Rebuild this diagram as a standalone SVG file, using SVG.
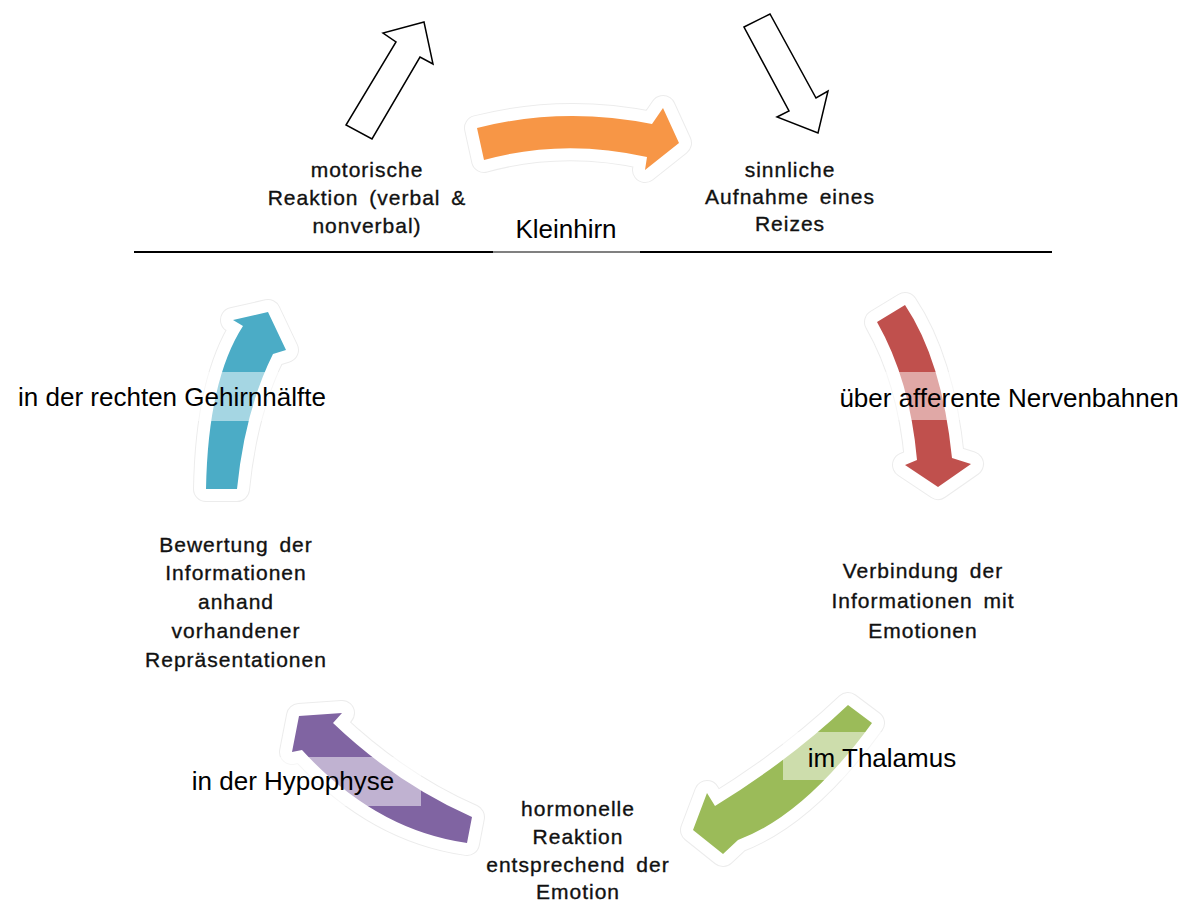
<svg xmlns="http://www.w3.org/2000/svg" width="1189" height="902" viewBox="0 0 1189 902">
<style>
.halo{fill:#ececec;stroke:#ececec;stroke-width:26;stroke-linejoin:round}
.halo2{fill:#ffffff;stroke:#ffffff;stroke-width:24;stroke-linejoin:round}
.outline{fill:#ffffff;stroke:#000000;stroke-width:1.5;stroke-linejoin:miter}
.lbl{font-family:"Liberation Sans",Arial,sans-serif;font-size:26px;fill:#000000;text-anchor:middle}
.box{fill:#ffffff;fill-opacity:0.5}
.node{font-family:"Liberation Sans",Arial,sans-serif;font-size:21px;fill:#111111;stroke:#111111;stroke-width:0.35;text-anchor:middle;letter-spacing:1px;word-spacing:4px}
</style>
<rect width="1189" height="902" fill="#ffffff"/>
<g id="connectors">
  <polygon class="outline" points="424,22 383,33 396,42 346,125 372,139 420,57 433,64"/>
  <polygon class="outline" points="744,27 770,14 816,98 828,91 818,133 777,117 789,111"/>
  <g id="arrow-orange">
    <path class="halo" d="M477,128 Q563,106 652,124 L663,108 L679,143 L645,170 L647,157 Q563,138 484,160 Z"/>
    <path class="halo2" d="M477,128 Q563,106 652,124 L663,108 L679,143 L645,170 L647,157 Q563,138 484,160 Z"/>
    <path fill="#F79646" d="M477,128 Q563,106 652,124 L663,108 L679,143 L645,170 L647,157 Q563,138 484,160 Z"/>
  </g>
  <g id="arrow-red">
    <path class="halo" d="M877,322 Q910,380 917,460 L905,465 L938,487 L971,464 L952,458 Q942,360 905,305 Z"/>
    <path class="halo2" d="M877,322 Q910,380 917,460 L905,465 L938,487 L971,464 L952,458 Q942,360 905,305 Z"/>
    <path fill="#C0504D" d="M877,322 Q910,380 917,460 L905,465 L938,487 L971,464 L952,458 Q942,360 905,305 Z"/>
  </g>
  <g id="arrow-green">
    <path class="halo" d="M848,705 Q790,760 715,806 L707,793 L693,830 L723,854 L738,840 Q805,815 872,723 Z"/>
    <path class="halo2" d="M848,705 Q790,760 715,806 L707,793 L693,830 L723,854 L738,840 Q805,815 872,723 Z"/>
    <path fill="#9BBB59" d="M848,705 Q790,760 715,806 L707,793 L693,830 L723,854 L738,840 Q805,815 872,723 Z"/>
  </g>
  <g id="arrow-purple">
    <path class="halo" d="M472,817 Q397,784 333,723 L342,713 L299,716 L292,752 L302,750 Q375,830 467,843 Z"/>
    <path class="halo2" d="M472,817 Q397,784 333,723 L342,713 L299,716 L292,752 L302,750 Q375,830 467,843 Z"/>
    <path fill="#8064A2" d="M472,817 Q397,784 333,723 L342,713 L299,716 L292,752 L302,750 Q375,830 467,843 Z"/>
  </g>
  <g id="arrow-blue">
    <path class="halo" d="M206,489 Q208,380 243,326 L233,320 L268,312 L286,350 L273,354 Q245,410 237,489 Z"/>
    <path class="halo2" d="M206,489 Q208,380 243,326 L233,320 L268,312 L286,350 L273,354 Q245,410 237,489 Z"/>
    <path fill="#4BACC6" d="M206,489 Q208,380 243,326 L233,320 L268,312 L286,350 L273,354 Q245,410 237,489 Z"/>
  </g>
  <line x1="134" y1="252" x2="1052" y2="252" stroke="#000000" stroke-width="2"/>
</g>
<g id="label-kleinhirn">
  <rect class="box" x="493" y="205" width="147" height="48"/>
  <text class="lbl" x="566" y="238">Kleinhirn</text>
</g>
<g id="label-afferent">
  <rect class="box" x="811" y="372" width="396" height="48"/>
  <text class="lbl" x="1009" y="407">über afferente Nervenbahnen</text>
</g>
<g id="label-thalamus">
  <rect class="box" x="783" y="732" width="199" height="48"/>
  <text class="lbl" x="882" y="767">im Thalamus</text>
</g>
<g id="label-hypophyse">
  <rect class="box" x="166" y="757" width="255" height="49"/>
  <text class="lbl" x="293" y="790">in der Hypophyse</text>
</g>
<g id="label-gehirn">
  <rect class="box" x="-8" y="372" width="361" height="49"/>
  <text class="lbl" x="172" y="406">in der rechten Gehirnhälfte</text>
</g>
<g id="node-motorisch">
  <text class="node" x="367" y="177">motorische</text>
  <text class="node" x="367" y="205">Reaktion (verbal &amp;</text>
  <text class="node" x="367" y="233">nonverbal)</text>
</g>
<g id="node-sinnlich">
  <text class="node" x="790" y="177">sinnliche</text>
  <text class="node" x="790" y="204">Aufnahme eines</text>
  <text class="node" x="790" y="231">Reizes</text>
</g>
<g id="node-verbindung">
  <text class="node" x="923" y="578">Verbindung der</text>
  <text class="node" x="923" y="608">Informationen mit</text>
  <text class="node" x="923" y="638">Emotionen</text>
</g>
<g id="node-hormonell">
  <text class="node" x="578" y="816">hormonelle</text>
  <text class="node" x="578" y="844">Reaktion</text>
  <text class="node" x="578" y="872">entsprechend der</text>
  <text class="node" x="578" y="899">Emotion</text>
</g>
<g id="node-bewertung">
  <text class="node" x="236" y="552">Bewertung der</text>
  <text class="node" x="236" y="580">Informationen</text>
  <text class="node" x="236" y="609">anhand</text>
  <text class="node" x="236" y="638">vorhandener</text>
  <text class="node" x="236" y="667">Repräsentationen</text>
</g>
</svg>
